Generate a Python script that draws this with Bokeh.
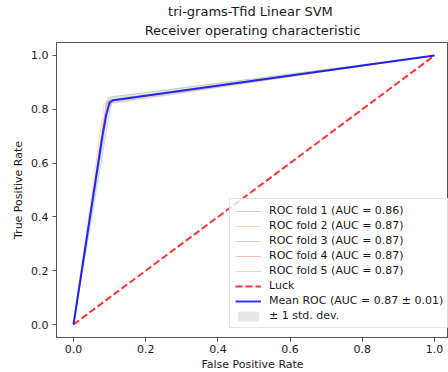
from bokeh.plotting import figure
from bokeh.models import Title, Range1d, Legend, LegendItem, FixedTicker, CustomJSTickFormatter
from bokeh.embed import file_html
from bokeh.resources import INLINE

# fold ROC points (fpr, tpr)
fold_labels = ["ROC fold 1 (AUC = 0.86)", "ROC fold 2 (AUC = 0.87)", "ROC fold 3 (AUC = 0.87)",
               "ROC fold 4 (AUC = 0.87)", "ROC fold 5 (AUC = 0.87)"]
fold_fpr = [[0.0, 0.105, 1.0], [0.0, 0.085, 1.0], [0.0, 0.097, 1.0], [0.0, 0.092, 1.0], [0.0, 0.100, 1.0]]
fold_tpr = [[0.0, 0.830, 1.0], [0.0, 0.820, 1.0], [0.0, 0.845, 1.0], [0.0, 0.830, 1.0], [0.0, 0.835, 1.0]]
fold_colors = ["#1f77b4", "#ff7f0e", "#2ca02c", "#d62728", "#9467bd"]

luck_x = [0.0, 1.0]
luck_y = [0.0, 1.0]

mean_fpr = [0.0, 0.08, 0.09, 0.10, 0.11, 1.0]
mean_tpr = [0.0, 0.700, 0.776, 0.825, 0.834, 1.0]
band_upper = [0.0, 0.745, 0.816, 0.844, 0.848, 1.0]
band_lower = [0.0, 0.655, 0.736, 0.806, 0.820, 1.0]

ticks = [0.0, 0.2, 0.4, 0.6, 0.8, 1.0]
title_lines = ["tri-grams-Tfid  Linear SVM", "Receiver operating characteristic"]

FONT = "DejaVu Sans"
TXT = "#1a1a1a"

p = figure(frame_width=392, frame_height=295, output_backend="svg", toolbar_location=None,
           x_range=Range1d(-0.0471, 1.0388), y_range=Range1d(-0.0483, 1.0483),
           min_border_left=56, min_border_right=0, min_border_top=42, min_border_bottom=35)
p.title.visible = False
p.add_layout(Title(text=title_lines[1], align="center", text_font=FONT,
                   text_font_size="13px", text_font_style="normal", text_color=TXT,
                   standoff=9, offset=0), "above")
p.add_layout(Title(text=title_lines[0], align="center", text_font=FONT,
                   text_font_size="13px", text_font_style="normal", text_color=TXT,
                   standoff=-4, offset=0), "above")

items = []
for fx, fy, c, lab in zip(fold_fpr, fold_tpr, fold_colors, fold_labels):
    r = p.line(fx, fy, line_color=c, line_width=1, line_alpha=0.3)
    items.append(LegendItem(label=lab, renderers=[r]))

r_luck = p.line(luck_x, luck_y, line_color="red", line_width=2, line_alpha=0.8, line_dash="7 3")
items.append(LegendItem(label="Luck", renderers=[r_luck]))
r_band = p.varea(x=mean_fpr, y1=band_lower, y2=band_upper, fill_color="grey", fill_alpha=0.2)
r_mean = p.line(mean_fpr, mean_tpr, line_color="blue", line_width=2, line_alpha=0.8)
items.append(LegendItem(label="Mean ROC (AUC = 0.87 \u00b1 0.01)", renderers=[r_mean]))
items.append(LegendItem(label="\u00b1 1 std. dev.", renderers=[r_band]))

legend = Legend(items=items, location=(173, 9), label_text_font=FONT,
                label_text_font_size="11px", label_text_color=TXT,
                glyph_width=26, glyph_height=12, label_height=12, spacing=2,
                label_standoff=8, padding=5, margin=0,
                border_line_color="#cccccc", border_line_width=1,
                background_fill_alpha=0.8)
p.add_layout(legend)

for ax in (p.xaxis, p.yaxis):
    ax.ticker = FixedTicker(ticks=ticks)
    ax.minor_tick_line_color = None
    ax.major_tick_out = 4
    ax.major_tick_in = 0
    ax.major_label_text_font = FONT
    ax.major_label_text_font_size = "11px"
    ax.major_label_text_color = TXT
    ax.axis_label_text_font = FONT
    ax.axis_label_text_font_size = "11px"
    ax.axis_label_text_font_style = "normal"
    ax.axis_label_text_color = TXT
    ax.axis_line_color = "#555555"
    ax.major_tick_line_color = "#555555"
    ax.formatter = CustomJSTickFormatter(code="return tick.toFixed(1);")

p.xaxis.major_label_standoff = 3
p.xaxis.axis_label_standoff = 2
p.yaxis.major_label_standoff = 4
p.yaxis.axis_label_standoff = 3
p.xaxis.axis_label = "False Positive Rate"
p.yaxis.axis_label = "True Positive Rate"

p.xgrid.visible = False
p.ygrid.visible = False
p.outline_line_color = "#555555"
p.outline_line_width = 1
p.background_fill_color = "white"
p.border_fill_color = "white"

open("out.html", "w").write(file_html(p, INLINE))
